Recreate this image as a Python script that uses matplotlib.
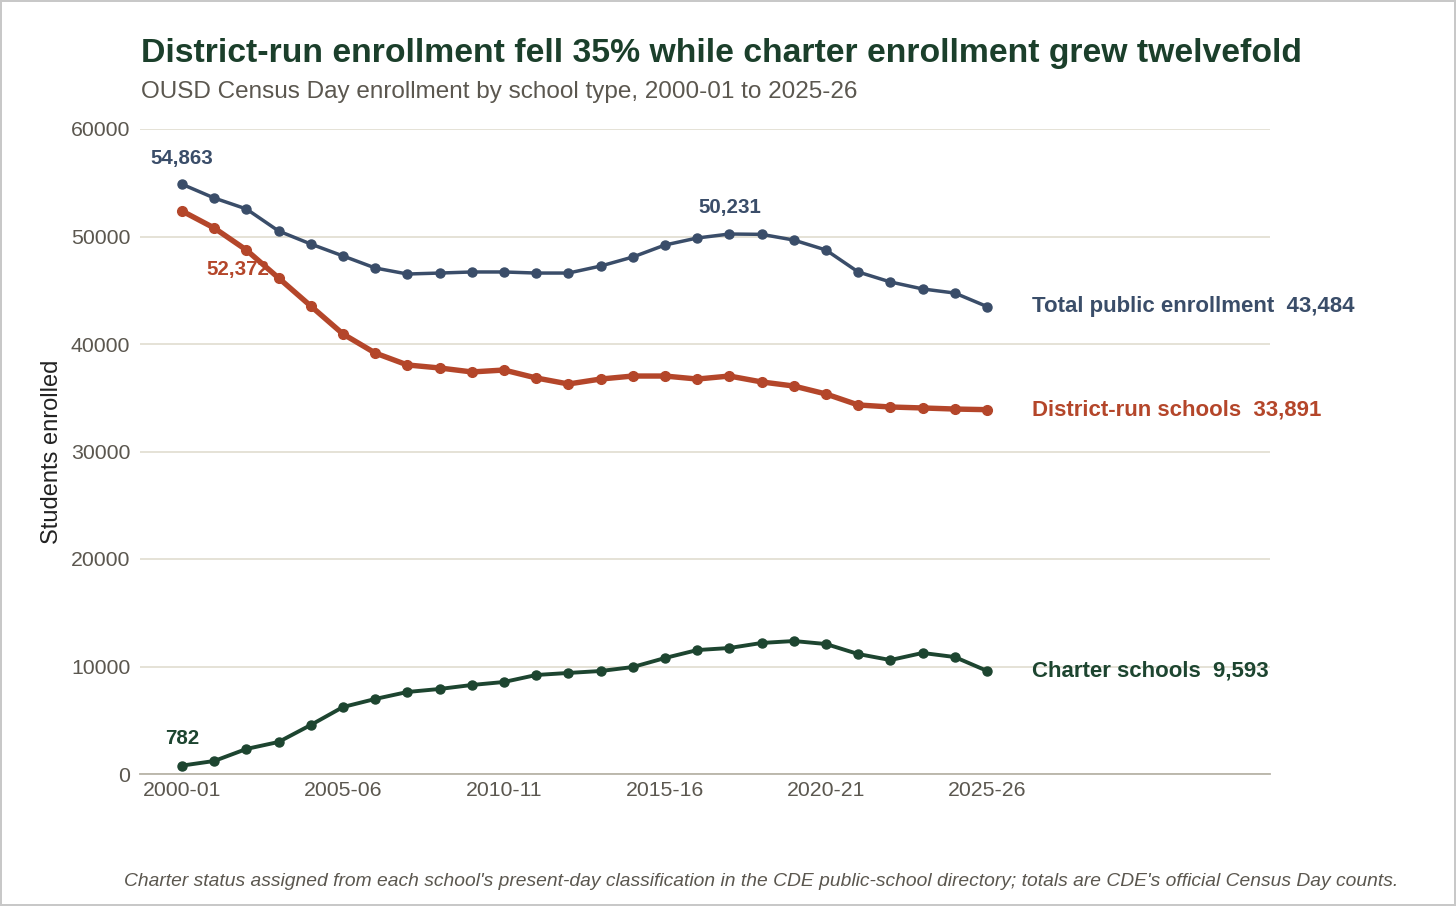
import matplotlib
matplotlib.use("Agg")
import matplotlib.pyplot as plt

years = ["2000-01", "2001-02", "2002-03", "2003-04", "2004-05", "2005-06", "2006-07",
         "2007-08", "2008-09", "2009-10", "2010-11", "2011-12", "2012-13", "2013-14",
         "2014-15", "2015-16", "2016-17", "2017-18", "2018-19", "2019-20", "2020-21",
         "2021-22", "2022-23", "2023-24", "2024-25", "2025-26"]
total = [54863, 53580, 52560, 50510, 49300, 48190, 47070, 46510, 46600, 46700, 46700,
         46600, 46600, 47250, 48090, 49210, 49860, 50231, 50200, 49670, 48740, 46700,
         45770, 45120, 44740, 43484]
district = [52372, 50790, 48740, 46140, 43530, 40930, 39160, 38050, 37770, 37400, 37580,
            36840, 36280, 36740, 37020, 37020, 36740, 37020, 36470, 36090, 35350, 34330,
            34140, 34050, 33950, 33891]
charter = [782, 1210, 2330, 2980, 4560, 6230, 6980, 7630, 7910, 8280, 8560, 9210, 9400,
           9580, 9950, 10790, 11530, 11720, 12190, 12370, 12090, 11160, 10600, 11260,
           10880, 9593]
tick_labels = ["2000-01", "2005-06", "2010-11", "2015-16", "2020-21", "2025-26"]
yticks = [0, 10000, 20000, 30000, 40000, 50000, 60000]

C_TOTAL = "#3a4d69"
C_DIST = "#b4462a"
C_CHART = "#1d4530"
C_TITLE = "#1b3f2b"
C_TEXT = "#5b574f"
C_GRID = "#e0ddcf"

plt.rcParams["font.family"] = ["Liberation Sans", "DejaVu Sans"]

W, H = 1456, 906
fig = plt.figure(figsize=(W / 100, H / 100), dpi=100)
fig.patch.set_facecolor("white")
fig.patch.set_edgecolor("#c8c8c8")
fig.patch.set_linewidth(1.5)

ax = fig.add_axes([140 / W, 1 - 774 / H, (1270 - 140) / W, (774 - 129) / H])
x = list(range(len(years)))
step = (987 - 182) / 25.0
ax.set_xlim(-(182 - 140) / step, (1270 - 182) / step)
ax.set_ylim(0, 60000)

ax.plot(x, total, color=C_TOTAL, lw=2.5, marker="o", ms=6.5, zorder=3, clip_on=False)
ax.plot(x, district, color=C_DIST, lw=3.9, marker="o", ms=7, zorder=3, clip_on=False)
ax.plot(x, charter, color=C_CHART, lw=2.8, marker="o", ms=6.5, zorder=3, clip_on=False)

ax.set_yticks(yticks)
ax.set_yticklabels([str(v) for v in yticks])
tick_pos = [years.index(t) for t in tick_labels]
ax.set_xticks(tick_pos)
ax.set_xticklabels(tick_labels)
ax.tick_params(axis="both", length=0, labelsize=15.3, labelcolor=C_TEXT)
ax.tick_params(axis="y", pad=7)
ax.tick_params(axis="x", pad=5)
ax.grid(axis="y", color=C_GRID, lw=1.2)
ax.set_axisbelow(True)
for s in ["top", "right", "left"]:
    ax.spines[s].set_visible(False)
ax.spines["bottom"].set_color("#b8b4a8")
ax.spines["bottom"].set_linewidth(1.3)

ax.set_ylabel("Students enrolled", fontsize=17, color="#222222", labelpad=6)

def fmt(v):
    return f"{v:,}"

ann_size = 14.8
ax.annotate(fmt(total[0]), (0, total[0]), xytext=(0, 18.5), textcoords="offset points",
            ha="center", va="center", fontsize=ann_size, fontweight="bold", color=C_TOTAL)
ax.annotate(fmt(total[17]), (17, total[17]), xytext=(0, 19), textcoords="offset points",
            ha="center", va="center", fontsize=ann_size, fontweight="bold", color=C_TOTAL)
ax.annotate(fmt(district[0]), (0, district[0]), xytext=(40, -42), textcoords="offset points",
            ha="center", va="center", fontsize=ann_size, fontweight="bold", color=C_DIST)
ax.annotate(fmt(charter[0]), (0, charter[0]), xytext=(0, 19.5), textcoords="offset points",
            ha="center", va="center", fontsize=ann_size, fontweight="bold", color=C_CHART)

last = len(years) - 1
for name, series, col in [("Total public enrollment", total, C_TOTAL),
                          ("District-run schools", district, C_DIST),
                          ("Charter schools", charter, C_CHART)]:
    ax.annotate(f"{name}  {fmt(series[-1])}", (last, series[-1]), xytext=(32.5, 0),
                textcoords="offset points", ha="left", va="center", fontsize=16,
                fontweight="bold", color=col, annotation_clip=False)

fig.text(141 / W, 1 - 53.5 / H, "District-run enrollment fell 35% while charter enrollment grew twelvefold",
         fontsize=24.3, fontweight="bold", color=C_TITLE, ha="left", va="center")
fig.text(141 / W, 1 - 92 / H, "OUSD Census Day enrollment by school type, 2000-01 to 2025-26",
         fontsize=17.5, color=C_TEXT, ha="left", va="center")
fig.text(761 / W, 1 - 881 / H,
         "Charter status assigned from each school's present-day classification in the CDE public-school directory; totals are CDE's official Census Day counts.",
         fontsize=13.9, style="italic", color=C_TEXT, ha="center", va="center")

fig.savefig("out.png", dpi=100, facecolor=fig.get_facecolor(), edgecolor=fig.get_edgecolor())
